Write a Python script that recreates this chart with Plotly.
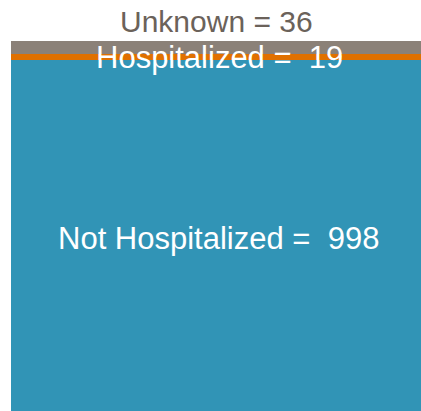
import plotly.graph_objects as go

categories = ["Not Hospitalized", "Hospitalized", "Unknown"]
values = [998, 19, 36]
colors = ["#3194b6", "#e07000", "#8b8178"]

fig = go.Figure()
for cat, val, col in zip(categories, values, colors):
    fig.add_trace(go.Bar(x=["All"], y=[val], name=cat, marker=dict(color=col, line=dict(width=0)),
                         hoverinfo="name+y"))

total = sum(values)
font = "Liberation Sans"
annotations = [
    dict(x=0.5, xref="paper", y=total, yref="y", yanchor="middle", yshift=20,
         text=f"Unknown = {values[2]}", showarrow=False,
         font=dict(family=font, size=30, color="#6b625a")),
    dict(x=0.5, xref="paper", y=total, yref="y", yanchor="middle", yshift=-16, xshift=3,
         text=f"Hospitalized =  {values[1]}", showarrow=False,
         font=dict(family=font, size=31, color="white")),
    dict(x=0.5, xref="paper", y=values[0] / 2, yref="y", yanchor="middle", yshift=-3, xshift=2,
         text=f"Not Hospitalized =  {values[0]}", showarrow=False,
         font=dict(family=font, size=31, color="white")),
]

fig.update_layout(
    barmode="stack", bargap=0, showlegend=False,
    width=421, height=411,
    margin=dict(l=11, r=0, t=41, b=0),
    paper_bgcolor="white", plot_bgcolor="white",
    xaxis=dict(visible=False),
    yaxis=dict(visible=False, range=[0, total]),
    annotations=annotations,
)
fig.write_html("out.html", config={"displayModeBar": False},
               post_script="document.body.style.margin='0';document.body.style.overflow='hidden';")
